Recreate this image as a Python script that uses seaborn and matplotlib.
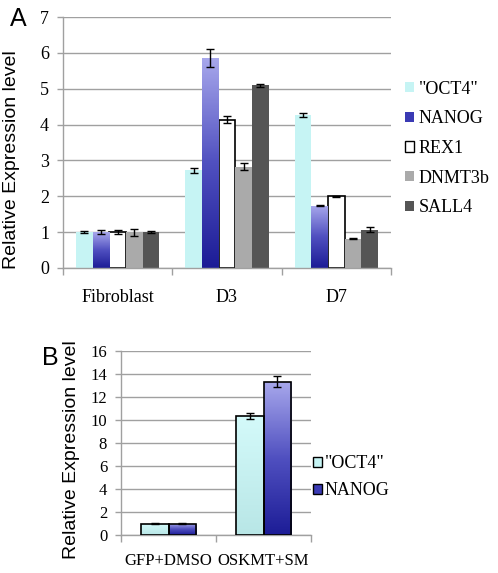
import matplotlib
matplotlib.use('Agg')
import matplotlib.pyplot as plt
import matplotlib.colors as mcolors
from matplotlib.patches import Patch
import numpy as np
import pandas as pd
import seaborn as sns

# Dados do painel A
grupos_a = ['Fibroblast', 'D3', 'D7']
genes_a = ['"OCT4"', 'NANOG', 'REX1', 'DNMT3b', 'SALL4']
oct4_a = [1.0, 2.73, 4.27]
nanog_a = [1.0, 5.86, 1.74]
rex1_a = [1.0, 4.14, 2.0]
dnmt3b_a = [1.0, 2.83, 0.82]
sall4_a = [1.0, 5.09, 1.07]
oct4_a_err = [0.02, 0.07, 0.05]
nanog_a_err = [0.06, 0.25, 0.02]
rex1_a_err = [0.05, 0.10, 0.02]
dnmt3b_a_err = [0.10, 0.10, 0.01]
sall4_a_err = [0.03, 0.05, 0.06]

# Dados do painel B
grupos_b = ['GFP+DMSO', 'OSKMT+SM']
genes_b = ['"OCT4"', 'NANOG']
oct4_b = [1.0, 10.33]
nanog_b = [1.0, 13.33]
oct4_b_err = [0.05, 0.25]
nanog_b_err = [0.05, 0.5]

serif = 'Liberation Serif'
sans = 'Liberation Sans'
cor_oct4 = '#c6f4f4'
cor_nanog = '#3a3ab4'
cores_a = [cor_oct4, cor_nanog, '#ffffff', '#aaaaaa', '#555555']
grade = '#a0a0a0'

nanog_cmap = mcolors.LinearSegmentedColormap.from_list('nanog', ['#1c1c96', '#5050c0', '#a8a8ec'])
oct4_cmap = mcolors.LinearSegmentedColormap.from_list('oct4', ['#b8e6e6', '#d4fafa'])


def montar_df(grupos, genes, valores, erros):
    linhas = []
    for g, vals, errs in zip(genes, valores, erros):
        for c, v, e in zip(grupos, vals, errs):
            linhas.append({'Grupo': c, 'Gene': g, 'Valor': v, 'Erro': e})
    return pd.DataFrame(linhas)


def gradiente(ax, barras, cmap):
    # preencher as barras com degradê vertical
    for p in barras:
        x0, y0 = p.get_x(), p.get_y()
        w, h = p.get_width(), p.get_height()
        img = ax.imshow(np.linspace(0, 1, 256).reshape(-1, 1), cmap=cmap, origin='lower',
                        extent=[x0, x0 + w, y0, y0 + h], aspect='auto', zorder=2)
        img.set_clip_path(p)
        p.set_facecolor('none')
        p.set_zorder(3)


def estilo_eixo(ax, n, ymax, passo, fs, pad):
    ax.set_xlim(-0.5, n - 0.5)
    ax.set_ylim(0, ymax)
    ax.set_yticks(np.arange(0, ymax + 0.1, passo))
    ax.yaxis.grid(True, color=grade, lw=1)
    ax.xaxis.grid(False)
    ax.set_axisbelow(True)
    for s in ['top', 'right']:
        ax.spines[s].set_visible(False)
    for s in ['left', 'bottom']:
        ax.spines[s].set_color(grade)
        ax.spines[s].set_linewidth(1)
    ax.set_xticks(np.arange(-0.5, n), minor=True)
    ax.tick_params(axis='x', which='minor', length=5, color=grade, width=1)
    ax.tick_params(axis='x', which='major', length=0, pad=pad, labelsize=fs)
    ax.tick_params(axis='y', length=4, color=grade, width=1, labelsize=fs, pad=6)
    for t in ax.get_xticklabels() + ax.get_yticklabels():
        t.set_fontfamily(serif)
    ax.set_xlabel('')


def barras_com_erro(ax, df, genes, borda):
    conts = list(ax.containers)
    for i, cont in enumerate(conts):
        erros = df[df['Gene'] == genes[i]]['Erro'].values
        for p, e in zip(cont, erros):
            if borda[i]:
                p.set_edgecolor('black')
                p.set_linewidth(1.2)
            else:
                p.set_edgecolor('none')
            ax.errorbar(p.get_x() + p.get_width() / 2, p.get_height(), yerr=e, color='black',
                        lw=1, capsize=3, capthick=1, zorder=5)
    return conts


fig = plt.figure(figsize=(4.98, 5.73), dpi=100)

# Painel A
df_a = montar_df(grupos_a, genes_a, [oct4_a, nanog_a, rex1_a, dnmt3b_a, sall4_a],
                 [oct4_a_err, nanog_a_err, rex1_a_err, dnmt3b_a_err, sall4_a_err])
ax1 = fig.add_axes([0.1265, 0.5323, 0.6586, 0.438])
sns.barplot(data=df_a, x='Grupo', y='Valor', hue='Gene', hue_order=genes_a, order=grupos_a,
            palette=cores_a, width=0.76, errorbar=None, legend=False, ax=ax1, saturation=1)
conts_a = barras_com_erro(ax1, df_a, genes_a, [False, False, True, False, False])
gradiente(ax1, conts_a[1], nanog_cmap)
estilo_eixo(ax1, 3, 7, 1, 13, 15)
ax1.set_ylabel('Relative Expression level', fontsize=14, fontfamily=sans, va='center')
ax1.yaxis.set_label_coords(-0.158, 0.43)

handles_a = [Patch(facecolor=c, edgecolor='black' if g == 'REX1' else 'none', lw=1) for g, c in zip(genes_a, cores_a)]
fig.legend(handles_a, genes_a, loc='upper left', bbox_to_anchor=(0.795, 0.875), frameon=False,
           prop={'family': serif, 'size': 13}, handlelength=0.5, handleheight=0.5,
           handletextpad=0.25, labelspacing=0.7, borderpad=0)

# Painel B
df_b = montar_df(grupos_b, genes_b, [oct4_b, nanog_b], [oct4_b_err, nanog_b_err])
ax2 = fig.add_axes([0.243, 0.0663, 0.3815, 0.3211])
sns.barplot(data=df_b, x='Grupo', y='Valor', hue='Gene', hue_order=genes_b, order=grupos_b,
            palette=[cor_oct4, cor_nanog], width=0.58, errorbar=None, legend=False, ax=ax2, saturation=1)
conts_b = barras_com_erro(ax2, df_b, genes_b, [True, True])
gradiente(ax2, conts_b[0], oct4_cmap)
gradiente(ax2, conts_b[1], nanog_cmap)
estilo_eixo(ax2, 2, 16, 2, 12, 13)
ax2.set_ylabel('Relative Expression level', fontsize=14, fontfamily=sans, va='center')
ax2.yaxis.set_label_coords(-0.258, 0.462)

handles_b = [Patch(facecolor=c, edgecolor='black', lw=1) for c in [cor_oct4, cor_nanog]]
fig.legend(handles_b, genes_b, loc='upper left', bbox_to_anchor=(0.61, 0.221), frameon=False,
           prop={'family': serif, 'size': 13}, handlelength=0.5, handleheight=0.5,
           handletextpad=0.15, labelspacing=0.55, borderpad=0)

# Letras dos painéis
fig.text(0.02, 0.988, 'A', fontsize=18, fontfamily=sans, va='top')
fig.text(0.084, 0.396, 'B', fontsize=18, fontfamily=sans, va='top')

plt.savefig('out.png', dpi=100)
